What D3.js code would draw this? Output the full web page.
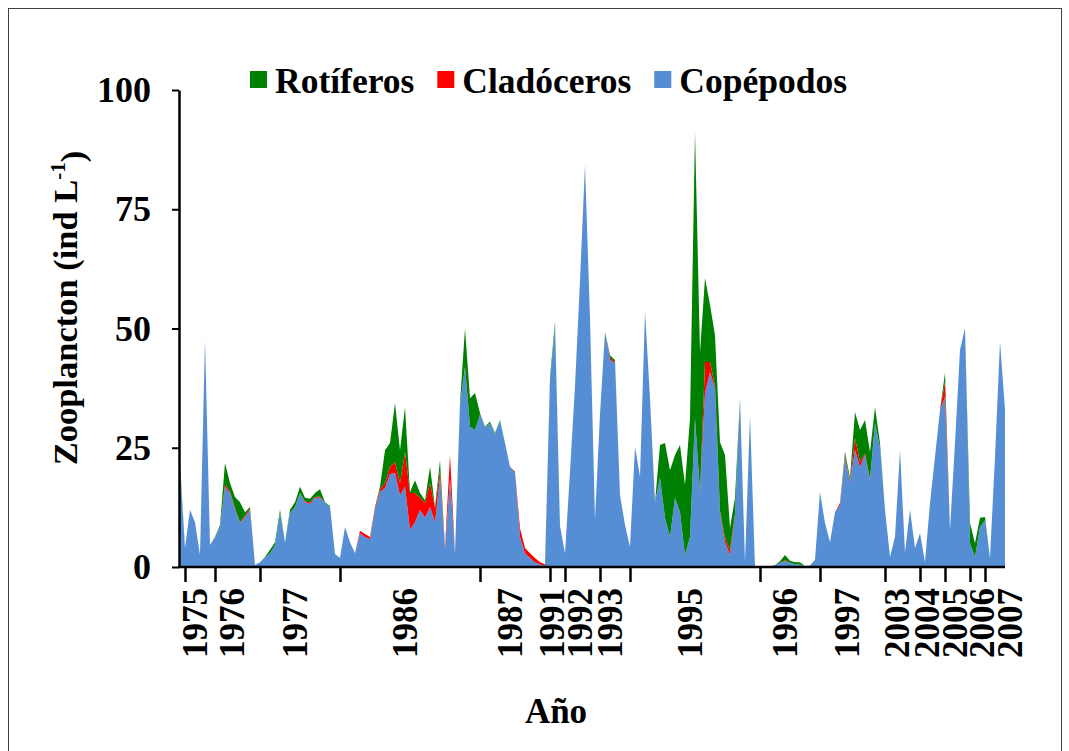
<!DOCTYPE html>
<meta charset="utf-8">
<style>
body { margin: 0; background: #fff; }
svg text { font-family: "Liberation Serif", "Times New Roman", serif; font-weight: bold; fill: #000; }
</style>
<svg width="1069" height="751"></svg>
<script src="https://cdn.jsdelivr.net/npm/d3@7/dist/d3.min.js"></script>
<script>

// year groups on the category axis (first sample has no label)
var years = ["1975","1976","1977","1986","1987","1991","1992","1993","1995","1996","1997","2003","2004","2005","2006","2007"];
var yearStart = [1, 7, 16, 32, 60, 74, 77, 84, 90, 116, 128, 141, 148, 153, 158, 161];

var yTicks = [0, 25, 50, 75, 100];

// ind L-1, one value per sample
var copepodos = [
  20.8, 4, 12, 9.4, 2.5, 47.6, 4.6, 6.1, 8.5, 16.8,
  15.5, 12, 9.2, 10.5, 12, 0.4, 1.0, 2.0, 2.9, 4.6,
  11.3, 5.2, 11.3, 12.6, 15.5, 13.6, 13.2, 14.5, 14.5, 13.4,
  12.6, 2.7, 1.9, 8.4, 5.2, 2.9, 7.1, 6.3, 5.8, 12,
  15.7, 16.6, 19.5, 19.7, 15.1, 16.8, 7.8, 9.4, 12, 10.3,
  12.6, 9.4, 18.9, 3.8, 18.5, 2.9, 34, 42, 29.4, 28.7,
  32, 29.2, 30.2, 27.9, 30.6, 26, 21, 19.8, 6.3, 2.9,
  1.9, 1.0, 0.5, 0.3, 39, 50.5, 8.6, 2.9, 20, 38,
  60, 84.3, 52, 10, 32, 49.3, 43.4, 42.8, 15.1, 8.8,
  4.2, 25.2, 18.9, 53.5, 35.4, 13.6, 18.7, 10.3, 6.3, 14.5,
  11.5, 2.5, 6.3, 31.2, 15.7, 36.5, 40.9, 37.5, 11.5, 5.2,
  2.5, 10.9, 35, 1.0, 31.4, 0, 0, 0, 0.1, 0.4,
  0.9, 1.2, 0.9, 0.6, 0.5, 0.2, 0.3, 1.5, 15.7, 9.2,
  5.2, 11.5, 13.0, 22.8, 17.8, 24.5, 21, 23.5, 18.2, 30.2,
  25, 12, 2.1, 6.3, 24.5, 3.1, 12, 4, 7.1, 1,
  13.4, 23.1, 32.9, 35.6, 7.8, 26, 45.5, 50.1, 5, 2.1,
  8.4, 9.8, 1.9, 23.1, 47.2, 32.9
];
var cladoceros = [
  0, 0, 0, 0, 0, 0, 0, 0, 0, 0.5,
  0.4, 0.3, 0.2, 0.3, 0.3, 0, 0, 0, 0, 0,
  0, 0, 0, 0, 0, 0.2, 0.3, 0.2, 0.3, 0,
  0, 0, 0, 0, 0, 0, 0.5, 0.6, 0.5, 0.4,
  0.6, 1.0, 1.5, 2.3, 2.5, 7.3, 7.7, 6.1, 2.5, 3.1,
  5, 3, 1.4, 0.4, 5, 0, 0, 0, 0, 0,
  0, 0, 0, 0, 0, 0, 0, 0.2, 1.8, 1.1,
  1.0, 0.9, 0.5, 0.3, 0, 0, 0, 0, 0, 0,
  0, 0, 0, 0, 0, 0, 0.5, 0.2, 0, 0,
  0, 0, 0, 0, 0, 0, 0, 0, 0, 0,
  0, 0, 0, 0, 0, 6.5, 2.1, 0.5, 0.3, 1.0,
  1.0, 0.3, 0, 0, 0, 0, 0, 0, 0, 0,
  0, 0.2, 0, 0, 0, 0, 0, 0, 0, 0,
  0, 0, 0.4, 0.5, 0.3, 2.5, 1, 0.3, 0.2, 0,
  0, 0, 0, 0, 0, 0, 0, 0, 0, 0,
  0, 0, 0, 3.2, 0, 0, 0, 0, 0, 0,
  0, 0, 0, 0, 0, 0
];
var rotiferos = [
  1.0, 0, 0, 0, 0, 0, 0, 0.2, 0.3, 4.5,
  1.7, 2.4, 4.2, 0.7, 0.3, 0, 0, 0.1, 0.7, 0.6,
  0.7, 0, 0.7, 1.0, 1.3, 0.7, 0.8, 0.8, 1.5, 0.2,
  0.2, 0, 0, 0, 0, 0, 0, 0, 0, 0.2,
  0.5, 6.9, 5, 12.4, 6.9, 9.4, 0.2, 2.7, 1.0, 0.6,
  3.4, 0.2, 2.1, 0, 0, 0, 0.4, 8, 6, 7.8,
  0.3, 0.2, 0.3, 0.2, 0.2, 0, 0, 0, 0, 0,
  0, 0, 0, 0, 0.8, 0.9, 0, 0, 0, 0,
  0, 0, 0, 0, 0, 0, 0.5, 0.4, 0, 0,
  0, 0, 0, 0, 0, 0, 6.9, 15.7, 14, 9,
  14.1, 14.7, 24.9, 60, 29.3, 17.6, 12, 10.6, 14.4, 17.3,
  4.7, 3.3, 0.4, 0, 0.3, 0, 0, 0, 0, 0,
  0.3, 1.1, 0.4, 0.4, 0.5, 0, 0, 0, 0, 0,
  0, 0, 0, 0.8, 0.6, 5.5, 6.7, 7, 5.7, 3.3,
  1, 0, 0, 0, 0, 0, 0, 0, 0, 0,
  0, 0, 0, 1.9, 0, 0, 0, 0, 4.2, 2.9,
  1.9, 0.7, 0, 0, 0, 0
];

var series = [
  {key: "cop", name: "Copépodos", values: copepodos, color: "#558ed5"},
  {key: "clad", name: "Cladóceros", values: cladoceros, color: "#ff0000"},
  {key: "rot", name: "Rotíferos", values: rotiferos, color: "#008000"}
];

var svg = d3.select("svg"),
    width = +svg.attr("width"),
    height = +svg.attr("height");

var plot = {left: 180, right: 1005, top: 90, bottom: 567};

// outer chart frame
svg.append("rect")
    .attr("x", 8.5).attr("y", 8.5)
    .attr("width", 1053).attr("height", 770)
    .attr("fill", "#fff")
    .attr("stroke", "#404040")
    .attr("stroke-width", 1);

var n = copepodos.length;
var rows = d3.range(n).map(function(i) {
  var r = {i: i};
  series.forEach(function(s) { r[s.key] = s.values[i]; });
  return r;
});

var x = d3.scaleLinear().domain([0, n - 1]).range([plot.left, plot.right]);
var y = d3.scaleLinear().domain([0, 100]).range([plot.bottom, plot.top]);

var stack = d3.stack().keys(series.map(function(s) { return s.key; }));
var layers = stack(rows);

var area = d3.area()
    .x(function(d) { return x(d.data.i); })
    .y0(function(d) { return y(d[0]); })
    .y1(function(d) { return y(d[1]); });

svg.append("g").selectAll("path")
    .data(layers)
    .enter().append("path")
      .attr("d", area)
      .attr("fill", function(d, k) { return series[k].color; });

// y axis
var yAxis = svg.append("g")
    .attr("transform", "translate(" + (plot.left - 1) + ",0)")
    .call(d3.axisLeft(y).tickValues(yTicks).tickSize(7).tickSizeOuter(0).tickPadding(21));
yAxis.select(".domain").attr("stroke", "#000").attr("stroke-width", 2.5);
yAxis.selectAll(".tick line").attr("stroke", "#000").attr("stroke-width", 2);
yAxis.selectAll("text")
    .style("font-size", "36px")
    .style("font-family", "'Liberation Serif', serif")
    .style("font-weight", "bold");

// x axis: line + ticks at year boundaries
var xAxis = svg.append("g")
    .attr("transform", "translate(0," + plot.bottom + ")")
    .call(d3.axisBottom(x).tickValues(yearStart).tickSize(15).tickSizeOuter(0).tickFormat(""));
xAxis.select(".domain")
    .attr("d", "M" + (plot.left - 2) + ",0H" + plot.right)
    .attr("stroke", "#000").attr("stroke-width", 2.5);
xAxis.selectAll(".tick line").attr("stroke", "#000").attr("stroke-width", 2.5);

// year labels centred on their group, pushed right when they would collide
var prev = -Infinity;
var labelPos = years.map(function(yr, k) {
  var last = k < years.length - 1 ? yearStart[k + 1] - 1 : n - 1;
  var c = x((yearStart[k] + last) / 2) - 3;
  c = Math.max(c, prev + 27.5);
  prev = c;
  return c;
});

svg.append("g").selectAll("text")
    .data(years)
    .enter().append("text")
      .attr("transform", function(d, k) { return "translate(" + labelPos[k] + "," + (plot.bottom + 21) + ") rotate(-90)"; })
      .attr("text-anchor", "end")
      .attr("dy", "0.35em")
      .style("font-size", "35px")
      .text(function(d) { return d; });

// axis titles
var yTitle = svg.append("text")
    .attr("transform", "translate(77,308) rotate(-90)")
    .attr("text-anchor", "middle")
    .style("font-size", "34.5px");
yTitle.append("tspan").text("Zooplancton  (ind L");
yTitle.append("tspan").attr("dy", "-0.55em").style("font-size", "21px").text("-1");
yTitle.append("tspan").attr("dy", "0.55em").text(")");

svg.append("text")
    .attr("x", 556).attr("y", 723)
    .attr("text-anchor", "middle")
    .style("font-size", "35px")
    .text("Año");

// legend
var legend = svg.append("g").attr("transform", "translate(250,0)");
var lx = 0;
series.slice().reverse().forEach(function(s) {
  var g = legend.append("g").attr("transform", "translate(" + lx + ",0)");
  g.append("rect")
      .attr("x", 0).attr("y", 71)
      .attr("width", 17).attr("height", 17)
      .attr("fill", s.color);
  var t = g.append("text")
      .attr("x", 25).attr("y", 93)
      .style("font-size", "35.5px")
      .text(s.name);
  lx += 25 + t.node().getComputedTextLength() + 23;
});

</script>
